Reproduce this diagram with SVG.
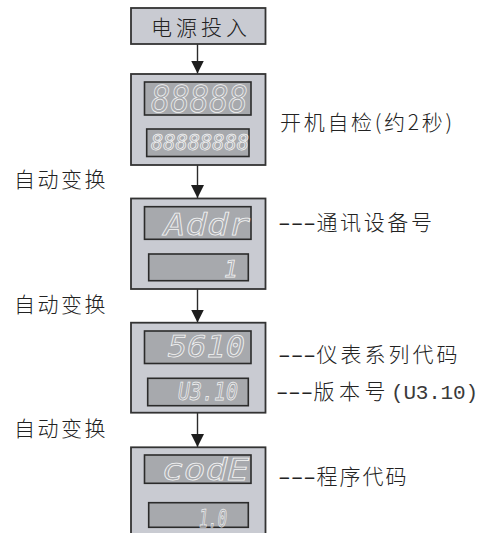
<svg xmlns="http://www.w3.org/2000/svg" width="479" height="533" viewBox="0 0 479 533">
<defs>
<style>
.box{fill:#c9cbd2;stroke:#333;stroke-width:1.8}
.disp{fill:#a7a9ad;stroke:#2b2b2b;stroke-width:1.6}
.seg{font-family:"DejaVu Sans Mono","Liberation Mono",monospace;font-style:oblique;fill:none;stroke:#f5f5f5;stroke-width:0.75}
.lbl{font-family:"Noto Sans CJK SC",sans-serif;font-size:21px;font-weight:300;fill:#222}
.mono{font-family:"Liberation Mono","Noto Sans CJK SC",monospace;font-weight:normal;fill:#3a3a3a}
.dash{font-family:"Liberation Sans",sans-serif}
.conn{stroke:#2b2b2b;stroke-width:1.4;fill:none}
</style>
<marker id="ah" markerUnits="userSpaceOnUse" markerWidth="14" markerHeight="14" refX="13" refY="6.5" orient="auto">
<path d="M0,0 L13,6.5 L0,13 Z" fill="#1e1e1e"/>
</marker>
</defs>
<rect width="479" height="533" fill="#fff"/>

<g id="connectors">
<line class="conn" x1="197.5" y1="44" x2="197.5" y2="73.5" marker-end="url(#ah)"/>
<line class="conn" x1="197.5" y1="165" x2="197.5" y2="198" marker-end="url(#ah)"/>
<line class="conn" x1="197.5" y1="289" x2="197.5" y2="322.5" marker-end="url(#ah)"/>
<line class="conn" x1="197.5" y1="413" x2="197.5" y2="447" marker-end="url(#ah)"/>
</g>

<g id="power">
<rect class="box" x="131" y="8" width="134.5" height="36"/>
<text class="lbl" x="151" y="34.5" font-size="20" textLength="96" lengthAdjust="spacing">电源投入</text>
</g>

<g id="selftest">
<rect class="box" x="131" y="74" width="134.5" height="91"/>
<rect class="disp" x="144.5" y="82" width="106.5" height="33"/>
<text class="seg" x="151" y="111.5" font-size="37" textLength="97" lengthAdjust="spacingAndGlyphs">88888</text>
<rect class="disp" x="146.7" y="129" width="102.3" height="27.5"/>
<text class="seg" x="151" y="150" font-size="20.5" textLength="98" lengthAdjust="spacingAndGlyphs" stroke-width="0.6">88888888</text>
</g>
<text class="lbl" x="280" y="130" textLength="172" lengthAdjust="spacing">开机自检(约2秒)</text>

<g id="addr">
<rect class="box" x="131" y="198.5" width="134.5" height="90.5"/>
<rect class="disp" x="144.5" y="206.7" width="106.5" height="32.6"/>
<text class="seg" x="164" y="235" font-size="31" textLength="86" lengthAdjust="spacingAndGlyphs">Addr</text>
<rect class="disp" x="148.7" y="254" width="99.6" height="26.7"/>
<text class="seg" x="231" y="276.7" font-size="23" text-anchor="middle">1</text>
</g>
<text class="lbl" y="230"><tspan class="dash" x="278" textLength="38" lengthAdjust="spacingAndGlyphs">---</tspan><tspan x="316.5" letter-spacing="2.6">通讯设备号</tspan></text>

<g id="model">
<rect class="box" x="131" y="322.7" width="134.5" height="90"/>
<rect class="disp" x="144.5" y="331" width="106.5" height="32.5"/>
<text class="seg" x="168" y="356.7" font-size="30" textLength="77" lengthAdjust="spacingAndGlyphs">5610</text>
<rect class="disp" x="147.7" y="378.3" width="100.6" height="27.4"/>
<text class="seg" x="178" y="400" font-size="25" textLength="60" lengthAdjust="spacingAndGlyphs">U3.10</text>
</g>
<text class="lbl" y="361.5"><tspan class="dash" x="278" textLength="38" lengthAdjust="spacingAndGlyphs">---</tspan><tspan x="316.5" letter-spacing="3">仪表系列代码</tspan></text>
<text class="lbl" y="398.5"><tspan class="dash" x="276" textLength="37" lengthAdjust="spacingAndGlyphs">---</tspan><tspan x="313.5" letter-spacing="4.5">版本号</tspan><tspan class="mono" x="391" textLength="87" lengthAdjust="spacing">(U3.10)</tspan></text>

<g id="code">
<rect class="box" x="131" y="447.3" width="134.5" height="100"/>
<rect class="disp" x="144.5" y="455" width="106.5" height="28.3"/>
<text class="seg" x="162" y="480" font-size="30" textLength="87" lengthAdjust="spacingAndGlyphs">codE</text>
<rect class="disp" x="148.7" y="502.7" width="99.6" height="24.6"/>
<text class="seg" x="199" y="526.5" font-size="25" textLength="28" lengthAdjust="spacingAndGlyphs">1.0</text>
</g>
<text class="lbl" y="483.5"><tspan class="dash" x="278" textLength="38" lengthAdjust="spacingAndGlyphs">---</tspan><tspan x="316.5" letter-spacing="2">程序代码</tspan></text>

<text class="lbl" x="14" y="187" letter-spacing="2.5">自动变换</text>
<text class="lbl" x="14" y="312" letter-spacing="2.5">自动变换</text>
<text class="lbl" x="14" y="436" letter-spacing="2.5">自动变换</text>
</svg>
